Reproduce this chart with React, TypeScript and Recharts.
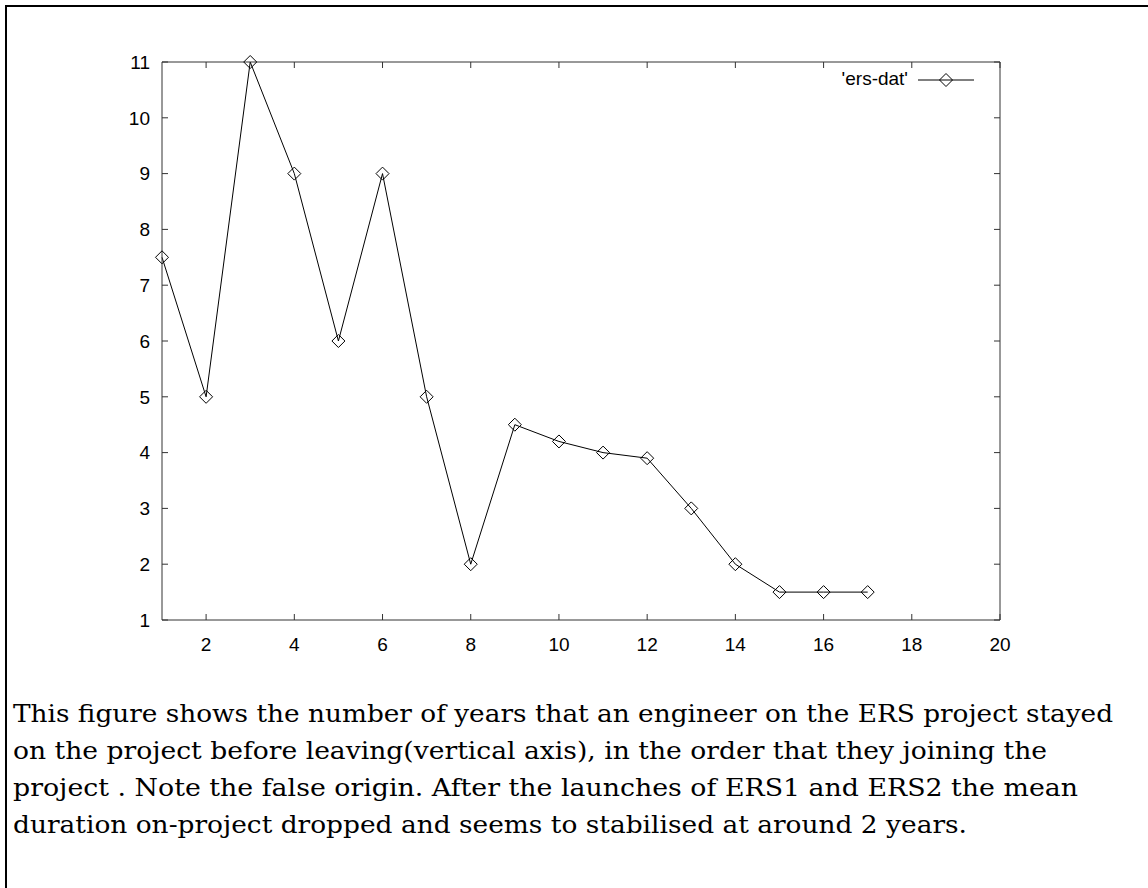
import React from "react";
import {
  LineChart,
  Line,
  XAxis,
  YAxis,
} from "recharts";

// engineer index (order of joining) vs years stayed on project
const engineers = [1, 2, 3, 4, 5, 6, 7, 8, 9, 10, 11, 12, 13, 14, 15, 16, 17];
const yearsStayed = [7.5, 5, 11, 9, 6, 9, 5, 2, 4.5, 4.2, 4, 3.9, 3, 2, 1.5, 1.5, 1.5];

const xTicks = [2, 4, 6, 8, 10, 12, 14, 16, 18, 20];
const yTicks = [1, 2, 3, 4, 5, 6, 7, 8, 9, 10, 11];

const seriesName = "'ers-dat'";

const captionLines = [
  "This figure shows the number of years that an engineer on the ERS project stayed",
  "on the project before leaving(vertical axis), in the order that they joining the",
  "project . Note the false origin. After the launches of ERS1 and ERS2 the mean",
  "duration on-project dropped and seems to stabilised at around 2 years.",
];
const captionWidths = [1100, 1034, 1065, 954];

const data = engineers.map((n, i) => ({ n, years: yearsStayed[i] }));

const FRAME = "#333";
const SANS = "'Liberation Sans', Arial, sans-serif";
const SERIF = "'DejaVu Serif', serif";

const Diamond = (props: any) => {
  const { cx, cy } = props;
  if (cx == null || cy == null) return <g />;
  const r = 6.5;
  return (
    <polygon
      points={`${cx},${cy - r} ${cx + r},${cy} ${cx},${cy + r} ${cx - r},${cy}`}
      fill="none"
      stroke="#000"
      strokeWidth={1}
    />
  );
};

const noLabel = () => <g />;

// key drawn as an overlay in the top right corner of the plot
const LegendBox = () => (
  <svg
    width={200}
    height={30}
    style={{ position: "absolute", left: 790, top: 65, overflow: "visible" }}
  >
    <text x={118} y={20} textAnchor="end" style={{ fontFamily: SANS }} fontSize={19} fill="#000">
      {seriesName}
    </text>
    <line x1={128} y1={15} x2={184} y2={15} stroke="#000" strokeWidth={1} />
    <Diamond cx={156} cy={15} />
  </svg>
);

const App = () => {
  return (
    <div
      style={{
        position: "absolute",
        left: 0,
        top: 0,
        width: 1148,
        height: 888,
        background: "#fff",
        overflow: "hidden",
      }}
    >
      {/* clipped frame of the original figure */}
      <div
        style={{
          position: "absolute",
          left: 5,
          top: 5,
          width: 1200,
          height: 900,
          borderLeft: "2px solid #000",
          borderTop: "2px solid #000",
        }}
      />
      <div style={{ position: "absolute", left: 0, top: 0 }}>
        <LineChart
          width={1148}
          height={680}
          data={data}
          margin={{ top: 61, right: 147, bottom: 20, left: 102 }}
        >
          <XAxis
            xAxisId="b"
            dataKey="n"
            type="number"
            domain={[1, 20]}
            ticks={xTicks}
            orientation="bottom"
            height={40}
            stroke={FRAME}
            tickSize={-6}
            tickMargin={24}
            tick={{ fill: "#000", fontSize: 19, fontFamily: SANS }}
          />
          <XAxis
            xAxisId="t"
            dataKey="n"
            type="number"
            domain={[1, 20]}
            ticks={xTicks}
            orientation="top"
            height={1}
            stroke={FRAME}
            tickSize={-6}
            tick={noLabel}
          />
          <YAxis
            yAxisId="l"
            type="number"
            domain={[1, 11]}
            ticks={yTicks}
            width={60}
            stroke={FRAME}
            tickSize={-6}
            tickMargin={18}
            tick={{ fill: "#000", fontSize: 19, fontFamily: SANS }}
          />
          <YAxis
            yAxisId="r"
            type="number"
            domain={[1, 11]}
            ticks={yTicks}
            orientation="right"
            width={1}
            stroke={FRAME}
            tickSize={-6}
            tick={noLabel}
          />
          <Line
            xAxisId="b"
            yAxisId="l"
            dataKey="years"
            name={seriesName}
            type="linear"
            stroke="#000"
            strokeWidth={1}
            dot={<Diamond />}
            activeDot={false}
            isAnimationActive={false}
          />
          <Line
            xAxisId="t"
            yAxisId="r"
            dataKey="years"
            stroke="none"
            dot={false}
            activeDot={false}
            legendType="none"
            isAnimationActive={false}
          />
        </LineChart>
        <LegendBox />
      </div>
      <svg
        width={1148}
        height={208}
        style={{ position: "absolute", left: 0, top: 680 }}
      >
        {captionLines.map((line, i) => (
          <text
            key={i}
            x={13}
            y={42 + i * 37}
            textLength={captionWidths[i]}
            lengthAdjust="spacingAndGlyphs"
            style={{ fontFamily: SERIF }}
            fontSize={25}
            fill="#000"
          >
            {line}
          </text>
        ))}
      </svg>
    </div>
  );
};

export default App;
